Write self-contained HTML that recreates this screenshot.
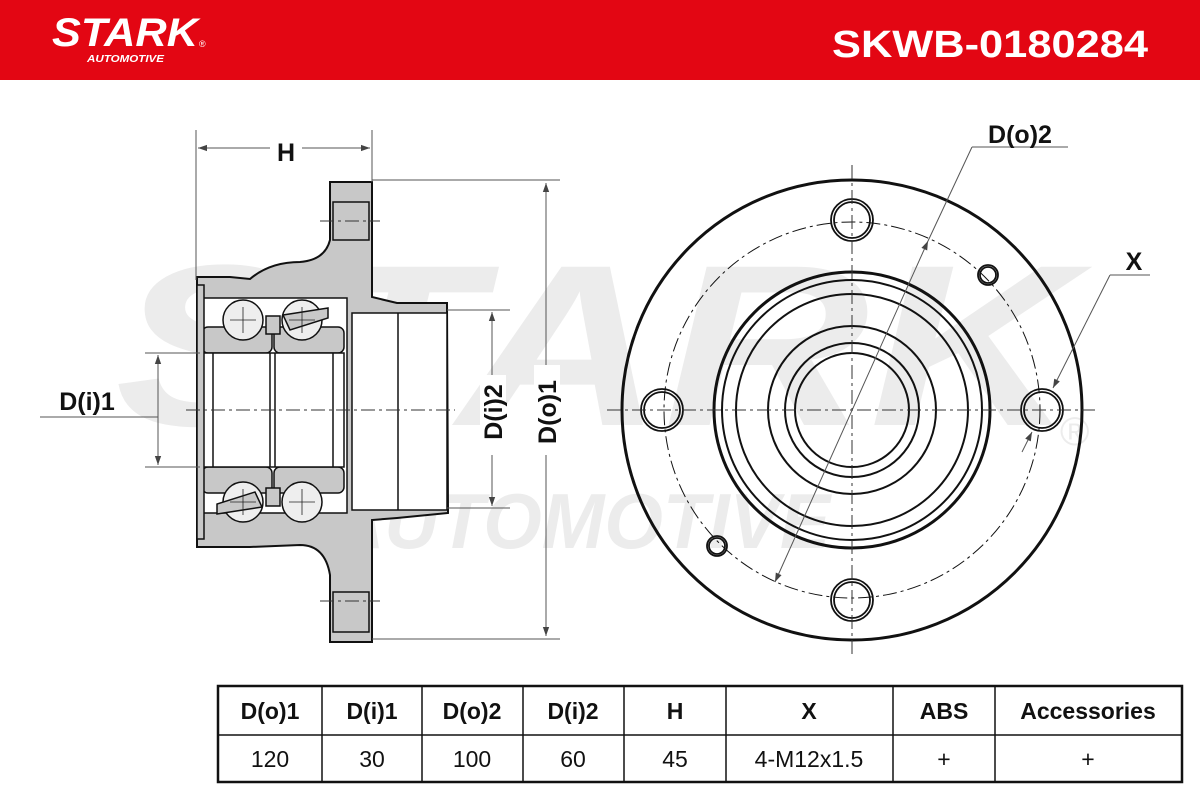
<!DOCTYPE html>
<html><head><meta charset="utf-8"><style>
body{margin:0;width:1200px;height:800px;background:#fff;overflow:hidden;font-family:"Liberation Sans",sans-serif}
</style></head><body>
<svg width="1200" height="800" viewBox="0 0 1200 800" xmlns="http://www.w3.org/2000/svg" font-family="Liberation Sans, sans-serif">
<defs>
<marker id="a" viewBox="0 0 10 10" refX="10" refY="5" markerWidth="9" markerHeight="9" orient="auto-start-reverse" markerUnits="userSpaceOnUse"><path d="M0,1.5 L10,5 L0,8.5z" fill="#444"/></marker>
</defs>
<rect x="0" y="0" width="1200" height="80" fill="#e30613"/>
<text x="52" y="46" font-size="40" font-weight="bold" font-style="italic" fill="#fff" textLength="146" lengthAdjust="spacingAndGlyphs">STARK</text>
<text x="199" y="47" font-size="9" fill="#fff">®</text>
<text x="87" y="62" font-size="10.5" font-weight="bold" font-style="italic" fill="#fff" textLength="77" lengthAdjust="spacingAndGlyphs">AUTOMOTIVE</text>
<text x="1148" y="57" font-size="38" font-weight="bold" fill="#fff" text-anchor="end" textLength="316" lengthAdjust="spacingAndGlyphs">SKWB-0180284</text>

<!-- watermark -->
<text x="115" y="425" font-size="230" font-weight="bold" font-style="italic" fill="#ececec" textLength="960" lengthAdjust="spacingAndGlyphs">STARK</text>
<text x="330" y="548" font-size="78" font-weight="bold" font-style="italic" fill="#ececec" textLength="500" lengthAdjust="spacingAndGlyphs">AUTOMOTIVE</text>
<text x="1060" y="445" font-size="40" fill="#ececec">®</text>

<!-- left cross-section -->
<g stroke="#111" stroke-width="2" fill="#c8c8c8">
<path d="M330,182 L372,182 L372,297 L397,303 L447,303 L448,513 L397,518 L372,520 L372,642 L330,642 L330,575 Q325,545 300,545 L250,547 L230,547 L197,547 L197,277 L230,277 L250,279 Q270,262 300,262 Q325,260 330,240 Z"/>
</g>
<g stroke="#111" stroke-width="1.5">
<rect x="352" y="313" width="95" height="197" fill="#fff"/>
<line x1="398" y1="313" x2="398" y2="510"/>
<rect x="202" y="298" width="145" height="215" fill="#fff"/>
<rect x="202" y="327" width="70" height="26" rx="6" fill="#c8c8c8"/>
<rect x="274" y="327" width="70" height="26" rx="6" fill="#c8c8c8"/>
<rect x="202" y="467" width="70" height="26" rx="6" fill="#c8c8c8"/>
<rect x="274" y="467" width="70" height="26" rx="6" fill="#c8c8c8"/>
<rect x="202" y="353" width="142" height="114" fill="#fff"/>
<line x1="213" y1="353" x2="213" y2="467"/><line x1="270" y1="353" x2="270" y2="467"/><line x1="275" y1="353" x2="275" y2="467"/><line x1="333" y1="353" x2="333" y2="467"/>
<rect x="197" y="285" width="7" height="254" fill="#c8c8c8"/>
<circle cx="243" cy="320" r="20" fill="#eee"/><circle cx="302" cy="320" r="20" fill="#eee"/>
<circle cx="243" cy="502" r="20" fill="#eee"/><circle cx="302" cy="502" r="20" fill="#eee"/>
<path d="M283,315 L328,308 L328,318 L290,330 Z" fill="#c8c8c8"/>
<path d="M262,507 L217,514 L217,504 L255,492 Z" fill="#c8c8c8"/>
<rect x="266" y="316" width="14" height="18" fill="#c8c8c8"/>
<rect x="266" y="488" width="14" height="18" fill="#c8c8c8"/>
<rect x="333" y="202" width="36" height="38" fill="#c8c8c8"/>
<rect x="333" y="592" width="36" height="40" fill="#c8c8c8"/>
</g>
<g stroke="#222" stroke-width="0.8">
<line x1="230" y1="320" x2="256" y2="320"/><line x1="243" y1="307" x2="243" y2="333"/>
<line x1="289" y1="320" x2="315" y2="320"/><line x1="302" y1="307" x2="302" y2="333"/>
<line x1="230" y1="502" x2="256" y2="502"/><line x1="243" y1="489" x2="243" y2="515"/>
<line x1="289" y1="502" x2="315" y2="502"/><line x1="302" y1="489" x2="302" y2="515"/>
</g>
<g stroke="#333" stroke-width="1" stroke-dasharray="14,4,3,4" fill="none">
<line x1="186" y1="410" x2="455" y2="410"/>
<line x1="320" y1="221" x2="380" y2="221"/>
<line x1="320" y1="601" x2="380" y2="601"/>
</g>

<!-- dimensions left -->
<g stroke="#555" stroke-width="1" fill="none">
<line x1="196" y1="130" x2="196" y2="280"/>
<line x1="372" y1="130" x2="372" y2="182"/>
<line x1="198" y1="148" x2="370" y2="148" marker-start="url(#a)" marker-end="url(#a)"/>
<line x1="372" y1="180" x2="560" y2="180"/>
<line x1="372" y1="639" x2="560" y2="639"/>
<line x1="546" y1="183" x2="546" y2="636" marker-start="url(#a)" marker-end="url(#a)"/>
<line x1="447" y1="310" x2="510" y2="310"/>
<line x1="447" y1="508" x2="510" y2="508"/>
<line x1="492" y1="312" x2="492" y2="506" marker-start="url(#a)" marker-end="url(#a)"/>
<line x1="145" y1="353" x2="200" y2="353"/>
<line x1="145" y1="467" x2="200" y2="467"/>
<line x1="158" y1="355" x2="158" y2="465" marker-start="url(#a)" marker-end="url(#a)"/>
<line x1="40" y1="417" x2="158" y2="417"/>
</g>
<rect x="270" y="138" width="32" height="24" fill="#fff"/>
<text x="286" y="161" font-size="25" font-weight="bold" text-anchor="middle" fill="#111">H</text>
<text x="87" y="410" font-size="25" font-weight="bold" text-anchor="middle" fill="#111">D(i)1</text>
<rect x="480" y="375" width="26" height="80" fill="#fff"/>
<text transform="translate(502,412) rotate(-90)" font-size="25" font-weight="bold" text-anchor="middle" fill="#111">D(i)2</text>
<rect x="534" y="365" width="26" height="90" fill="#fff"/>
<text transform="translate(556,412) rotate(-90)" font-size="25" font-weight="bold" text-anchor="middle" fill="#111">D(o)1</text>

<!-- right view -->
<g stroke="#111" fill="none">
<circle cx="852" cy="410" r="230" stroke-width="3"/>
<circle cx="852" cy="410" r="188" stroke-width="1" stroke-dasharray="14,4,3,4"/>
<circle cx="852" cy="410" r="138" stroke-width="3"/>
<circle cx="852" cy="410" r="130" stroke-width="2"/>
<circle cx="852" cy="410" r="116" stroke-width="2"/>
<circle cx="852" cy="410" r="84" stroke-width="2"/>
<circle cx="852" cy="410" r="67" stroke-width="2"/>
<circle cx="852" cy="410" r="57" stroke-width="2"/>
<g stroke-width="1.8">
<circle cx="852" cy="220" r="21"/><circle cx="852" cy="220" r="18"/>
<circle cx="852" cy="600" r="21"/><circle cx="852" cy="600" r="18"/>
<circle cx="662" cy="410" r="21"/><circle cx="662" cy="410" r="18"/>
<circle cx="1042" cy="410" r="21"/><circle cx="1042" cy="410" r="18"/>
<circle cx="988" cy="275" r="10"/><circle cx="988" cy="275" r="8"/>
<circle cx="717" cy="546" r="10"/><circle cx="717" cy="546" r="8"/>
</g>
</g>
<g stroke="#333" stroke-width="1" stroke-dasharray="14,4,3,4">
<line x1="607" y1="410" x2="1095" y2="410"/>
<line x1="852" y1="165" x2="852" y2="655"/>
</g>
<g stroke="#555" stroke-width="1" fill="none">
<line x1="972" y1="147" x2="1068" y2="147"/>
<line x1="972" y1="147" x2="928" y2="241"/>
<line x1="928" y1="241" x2="775" y2="582" marker-start="url(#a)" marker-end="url(#a)"/>
<line x1="1110" y1="275" x2="1150" y2="275"/>
<line x1="1110" y1="275" x2="1053" y2="388" marker-end="url(#a)"/>
<line x1="1022" y1="452" x2="1032" y2="432" marker-end="url(#a)"/>
</g>
<text x="1020" y="143" font-size="25" font-weight="bold" text-anchor="middle" fill="#111">D(o)2</text>
<text x="1134" y="270" font-size="25" font-weight="bold" text-anchor="middle" fill="#111">X</text>

<!-- table -->
<g stroke="#111" fill="none">
<rect x="218" y="686" width="964" height="96" stroke-width="2.5"/>
<line x1="218" y1="735" x2="1182" y2="735" stroke-width="1.5"/>
<g stroke-width="1.5">
<line x1="322" y1="686" x2="322" y2="782"/><line x1="422" y1="686" x2="422" y2="782"/>
<line x1="523" y1="686" x2="523" y2="782"/><line x1="624" y1="686" x2="624" y2="782"/>
<line x1="726" y1="686" x2="726" y2="782"/><line x1="893" y1="686" x2="893" y2="782"/>
<line x1="995" y1="686" x2="995" y2="782"/>
</g>
</g>
<g font-size="23" font-weight="bold" text-anchor="middle" fill="#111">
<text x="270" y="719">D(o)1</text><text x="372" y="719">D(i)1</text><text x="472" y="719">D(o)2</text>
<text x="573" y="719">D(i)2</text><text x="675" y="719">H</text><text x="809" y="719">X</text>
<text x="944" y="719">ABS</text><text x="1088" y="719">Accessories</text>
</g>
<g font-size="23" text-anchor="middle" fill="#111">
<text x="270" y="767">120</text><text x="372" y="767">30</text><text x="472" y="767">100</text>
<text x="573" y="767">60</text><text x="675" y="767">45</text><text x="809" y="767">4-M12x1.5</text>
<text x="944" y="767">+</text><text x="1088" y="767">+</text>
</g>
</svg>
</body></html>
